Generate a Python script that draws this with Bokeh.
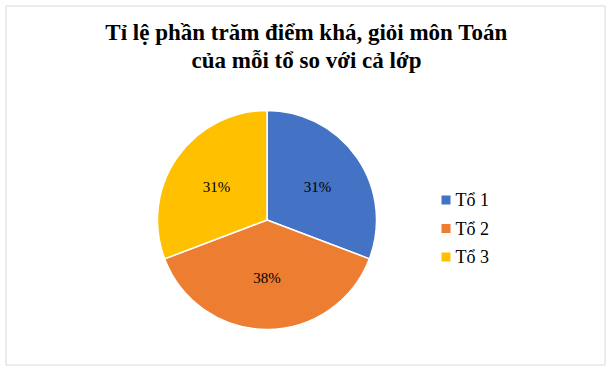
import math
from bokeh.plotting import figure
from bokeh.models import Range1d, ColumnDataSource
from bokeh.core.properties import value
from bokeh.embed import file_html
from bokeh.resources import INLINE

# ---- data ----
title_lines = ["Tỉ lệ phần trăm điểm khá, giỏi môn Toán", "của mỗi tổ so với cả lớp"]
categories = ["Tổ 1", "Tổ 2", "Tổ 3"]
values = [4, 5, 4]
colors = ["#4472C4", "#ED7D31", "#FFC000"]

W, H = 614, 370

p = figure(width=W, height=H, output_backend="svg", toolbar_location=None,
           x_range=Range1d(0, W), y_range=Range1d(0, H), min_border=0)
p.axis.visible = False
p.grid.visible = False
p.outline_line_color = None
p.background_fill_color = "white"
p.border_fill_color = "white"

def Y(px):
    return H - px

# chart border
p.quad(left=[5.5], right=[604.5], top=[Y(5.5)], bottom=[Y(364.5)],
       fill_color=None, line_color="#D9D9D9", line_width=1)

# pie
cx, cy, R = 266.5, Y(219.5), 109.5
total = sum(values)
starts, ends, lx, ly, labels = [], [], [], [], []
cum = 0.0
for v in values:
    a0 = math.pi / 2 - 2 * math.pi * (cum + v) / total
    a1 = math.pi / 2 - 2 * math.pi * cum / total
    starts.append(a0)
    ends.append(a1)
    mid = (a0 + a1) / 2
    lx.append(cx + 0.56 * R * math.cos(mid))
    ly.append(cy + 0.53 * R * math.sin(mid))
    labels.append(f"{round(100 * v / total)}%")
    cum += v

src = ColumnDataSource(dict(start=starts, end=ends, color=colors, x=lx, y=ly, label=labels))
p.wedge(x=cx, y=cy, radius=R, start_angle="start", end_angle="end", direction="anticlock",
        fill_color="color", line_color="white", line_width=1.5, source=src)
p.text(x="x", y="y", text="label", source=src, text_font=value("Liberation Serif"),
       text_font_size="15px", text_align="center", text_baseline="middle", text_color="#000000")

# title
p.text(x=[306, 306], y=[Y(32), Y(60)], text=title_lines, text_font=value("Liberation Serif"),
       text_font_size="23px", text_font_style="bold", text_align="center",
       text_baseline="middle", text_color="#000000")

# legend
leg_y = [Y(199.5 + 28.5 * i) for i in range(len(categories))]
p.rect(x=[445.5] * len(categories), y=leg_y, width=9, height=9, fill_color=colors, line_color=None)
p.text(x=[455] * len(categories), y=leg_y, text=categories, text_font=value("Liberation Serif"),
       text_font_size="18px", text_align="left", text_baseline="middle", text_color="#000000")

open("out.html", "w").write(file_html(p, INLINE))
